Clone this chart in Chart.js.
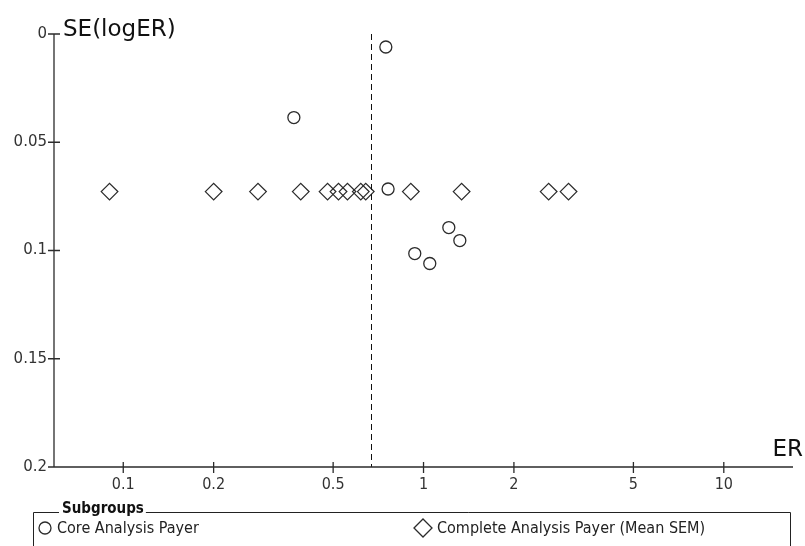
<!DOCTYPE html>
<html>
<head>
<meta charset="utf-8">
<script src="https://cdn.jsdelivr.net/npm/chart.js@4/dist/chart.umd.min.js"></script>
<style>
  html, body { margin: 0; padding: 0; background: #fff; }
  #wrap { width: 805px; height: 546px; position: relative; }
</style>
</head>
<body>
<div id="wrap"><canvas id="funnel" width="805" height="546"></canvas></div>
<script>
// study estimates (ER) and their standard errors of log(ER)
const coreER = [0.749, 0.370, 0.762, 1.214, 1.321, 0.935, 1.049];
const coreSE = [0.006, 0.0386, 0.0716, 0.0894, 0.0954, 0.1014, 0.106];
const completeER = [0.090, 0.200, 0.281, 0.390, 0.479, 0.521, 0.558, 0.618, 0.642, 0.907, 1.339, 2.61, 3.04];
const completeSE = [0.0728, 0.0728, 0.0728, 0.0728, 0.0728, 0.0728, 0.0728, 0.0728, 0.0728, 0.0728, 0.0728, 0.0728, 0.0728];
const pooledER = 0.671;
const xTicks = [0.1, 0.2, 0.5, 1, 2, 5, 10];
const yTicks = [0, 0.05, 0.1, 0.15, 0.2];
const seriesLabels = ['Core Analysis Payer', 'Complete Analysis Payer (Mean SEM)'];

const INK = '#2b2b2b';
const NARROW = "'DejaVu Sans Condensed', 'Liberation Sans Narrow', sans-serif";

const toPoints = (xs, ys) => xs.map((x, i) => ({ x: x, y: ys[i] }));

// axes, pooled-estimate line, axis titles and the subgroup box
const funnelFrame = {
  id: 'funnelFrame',
  afterDraw(chart) {
    const { ctx, chartArea: area, scales } = chart;
    const xs = scales.x, ys = scales.y;
    ctx.save();

    // pooled estimate
    const px = Math.round(xs.getPixelForValue(pooledER)) + 0.5;
    ctx.strokeStyle = '#111';
    ctx.lineWidth = 1;
    ctx.setLineDash([6, 4]);
    ctx.beginPath();
    ctx.moveTo(px, area.top);
    ctx.lineTo(px, area.bottom);
    ctx.stroke();
    ctx.setLineDash([]);

    // axis lines with crossing tick marks
    ctx.strokeStyle = INK;
    ctx.lineWidth = 1.3;
    ctx.beginPath();
    ctx.moveTo(area.left, area.top);
    ctx.lineTo(area.left, area.bottom);
    ctx.moveTo(area.left, area.bottom);
    ctx.lineTo(area.right, area.bottom);
    yTicks.forEach(v => {
      const y = ys.getPixelForValue(v);
      ctx.moveTo(area.left - 6, y);
      ctx.lineTo(area.left + 6, y);
    });
    xTicks.forEach(v => {
      const x = xs.getPixelForValue(v);
      ctx.moveTo(x, area.bottom - 5);
      ctx.lineTo(x, area.bottom + 6);
    });
    ctx.stroke();

    // axis titles
    ctx.fillStyle = '#111';
    ctx.font = "23px 'DejaVu Sans', sans-serif";
    ctx.textBaseline = 'alphabetic';
    ctx.textAlign = 'left';
    ctx.fillText('SE(logER)', area.left + 9, area.top + 2);
    ctx.textAlign = 'right';
    ctx.fillText('ER', 803, area.bottom - 11);

    // subgroup box
    const boxL = 33.5, boxT = 512.5, boxR = 790.5, boxB = 580;
    ctx.font = "bold 15px " + NARROW;
    ctx.textAlign = 'left';
    ctx.textBaseline = 'middle';
    const title = 'Subgroups';
    const tw = ctx.measureText(title).width;
    ctx.strokeStyle = '#222';
    ctx.lineWidth = 1;
    ctx.beginPath();
    ctx.moveTo(62 - 3, boxT);
    ctx.lineTo(boxL, boxT);
    ctx.lineTo(boxL, boxB);
    ctx.moveTo(62 + tw + 2, boxT);
    ctx.lineTo(boxR, boxT);
    ctx.lineTo(boxR, boxB);
    ctx.stroke();
    ctx.fillStyle = '#111';
    ctx.fillText(title, 62, boxT - 3);

    const ly = 528;
    ctx.strokeStyle = INK;
    ctx.lineWidth = 1.3;
    ctx.beginPath();
    ctx.arc(45, ly, 6, 0, Math.PI * 2);
    ctx.stroke();
    ctx.beginPath();
    ctx.moveTo(414, ly);
    ctx.lineTo(423, ly - 9);
    ctx.lineTo(432, ly);
    ctx.lineTo(423, ly + 9);
    ctx.closePath();
    ctx.stroke();

    ctx.font = "16px " + NARROW;
    ctx.fillStyle = '#222';
    ctx.fillText(seriesLabels[0], 57, ly + 1);
    ctx.fillText(seriesLabels[1], 437, ly + 1);

    ctx.restore();
  }
};

new Chart(document.getElementById('funnel'), {
  type: 'scatter',
  data: {
    datasets: [
      {
        label: seriesLabels[0],
        data: toPoints(coreER, coreSE),
        pointStyle: 'circle',
        pointRadius: 6,
        borderColor: INK,
        backgroundColor: 'rgba(0,0,0,0)',
        borderWidth: 1.3
      },
      {
        label: seriesLabels[1],
        data: toPoints(completeER, completeSE),
        pointStyle: 'rectRot',
        pointRadius: 8.3,
        borderColor: INK,
        backgroundColor: 'rgba(0,0,0,0)',
        borderWidth: 1.3
      }
    ]
  },
  options: {
    responsive: false,
    animation: false,
    events: [],
    layout: { padding: { top: 34, right: 12, left: 0, bottom: 0 } },
    plugins: {
      legend: { display: false },
      tooltip: { enabled: false }
    },
    scales: {
      x: {
        type: 'logarithmic',
        min: 0.0588,
        max: 17,
        afterBuildTicks: (scale) => { scale.ticks = xTicks.map(v => ({ value: v })); },
        afterFit: (scale) => { scale.height = 79; },
        grid: { display: false, drawTicks: false },
        border: { display: false },
        ticks: {
          autoSkip: false,
          maxRotation: 0,
          padding: 8,
          color: '#333',
          font: { family: NARROW, size: 16 },
          callback: (v) => String(v)
        }
      },
      y: {
        type: 'linear',
        reverse: true,
        min: 0,
        max: 0.2,
        afterBuildTicks: (scale) => { scale.ticks = yTicks.map(v => ({ value: v })); },
        afterFit: (scale) => { scale.width = 54; },
        grid: { display: false, drawTicks: false },
        border: { display: false },
        ticks: {
          padding: 7,
          color: '#333',
          font: { family: "'DejaVu Sans', sans-serif", size: 15 },
          callback: (v) => String(v)
        }
      }
    }
  },
  plugins: [funnelFrame]
});
</script>
</body>
</html>
